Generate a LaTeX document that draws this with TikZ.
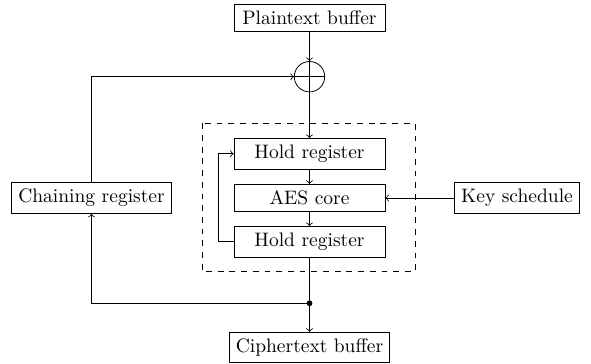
\documentclass[tikz,border=0pt]{standalone}
\usetikzlibrary{calc}
\begin{document}
\begin{tikzpicture}[x=0.5128pt,y=-0.5128pt,
  box/.style={draw,rectangle,inner sep=3.33pt},
  core/.style={box,minimum width=77.4pt},
  arr/.style={->},
  xorc/.style={draw,circle,minimum size=15.6pt,inner sep=0pt}]
\useasboundingbox (0,0) rectangle (591,364);
\node[core] (pt) at (309.5,18) {Plaintext buffer};
\node[xorc] (xor) at (309.5,76.7) {};
\draw (xor.north) -- (xor.south) (xor.west) -- (xor.east);
\node[core] (h1) at (309.5,153.7) {Hold register};
\node[core] (aes) at (309.5,198) {AES core};
\node[core] (h2) at (309.5,241.7) {Hold register};
\node[box] (chain) at (91.5,198) {Chaining register};
\node[box] (key) at (517,198) {Key schedule};
\node[box] (ct) at (309.5,347.5) {Ciphertext buffer};
\draw[dashed] (202.3,123.3) rectangle (415,271.7);
\coordinate (dot) at (309.5,303.3);
\coordinate (loop) at (218.3,241.7);
\fill (dot) circle (1.5pt);
\draw[arr] (pt) -- (xor);
\draw[arr] (xor) -- (h1);
\draw[arr] (h1) -- (aes);
\draw[arr] (aes) -- (h2);
\draw (h2) -- (dot);
\draw[arr] (dot) -- (ct);
\draw[arr] (dot) -| (chain);
\draw[arr] (chain) |- (xor);
\draw[arr] (key) -- (aes);
\draw[arr] (h2.west) -- (loop) |- (h1.west);
\end{tikzpicture}
\end{document}
